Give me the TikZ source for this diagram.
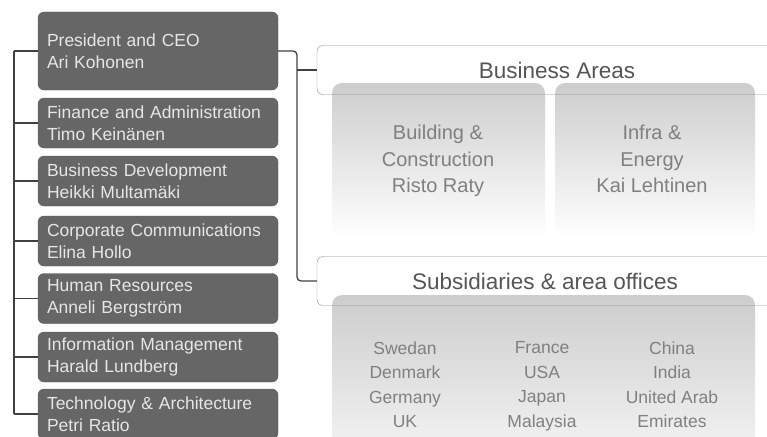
\documentclass[tikz,border=0pt]{standalone}
\usepackage{fontspec}
\setmainfont{Liberation Sans}
\usetikzlibrary{positioning}

\definecolor{boxgrey}{RGB}{102,102,102}
\definecolor{boxtext}{RGB}{230,230,230}
\definecolor{headtext}{RGB}{85,85,85}
\definecolor{areatext}{RGB}{128,128,128}
\definecolor{fogtop}{RGB}{205,205,205}

\tikzset{
  unitbox/.style={draw=boxgrey!85!black, fill=boxgrey, rounded corners=6pt,
    minimum width=240pt, minimum height=50pt, text width=222pt, inner xsep=9pt,
    align=left, text=boxtext, font=\fontsize{17.5}{22}\selectfont},
  headbox/.style={draw=black!45, rounded corners=6pt, minimum height=49pt,
    text=headtext, font=\fontsize{22.5}{26}\selectfont},
  fog/.style={top color=fogtop, bottom color=white, rounded corners=10pt},
  areatxt/.style={text=areatext, align=center, anchor=north, font=\fontsize{20}{26.5}\selectfont},
  landtxt/.style={text=areatext, align=center, anchor=north, font=\fontsize{17.5}{24.5}\selectfont},
  conn/.style={draw=black!75, line width=1.3pt}
}

\begin{document}
\begin{tikzpicture}[x=1pt,y=-1pt]
    \useasboundingbox (0,0) rectangle (767,436);

    % grey areas behind the headers
    \shade[fog] (332,83) rectangle (545,238);
    \shade[fog] (555,83) rectangle (755,238);
    \shade[fog, bottom color=gray!10] (332,295) rectangle (755,450);

    % left column
    \node[unitbox, minimum height=78pt] (ceo) at (158,51) {President and CEO\\Ari Kohonen};
    \node[unitbox] (fin) at (158,123) {Finance and Administration\\Timo Keinänen};
    \node[unitbox] (bus) at (158,181) {Business Development\\Heikki Multamäki};
    \node[unitbox] (com) at (158,241) {Corporate Communications\\Elina Hollo};
    \node[unitbox] (hr) at (158,298.5) {Human Resources\\Anneli Bergström};
    \node[unitbox] (im) at (158,357) {Information Management\\Harald Lundberg};
    \node[unitbox] (tech) at (158,414) {Technology \& Architecture\\Petri Ratio};

    % headers
    \node[headbox, minimum width=480pt] (areas) at (557,70) {Business Areas};
    \node[headbox, minimum width=456pt] (subs) at (545,281) {Subsidiaries \& area offices};

    \node[areatxt] (build) at (438,121.5) {Building \&\\Construction\\Risto Raty};
    \node[areatxt] (infra) at (652,121.5) {Infra \&\\Energy\\Kai Lehtinen};

    \node[landtxt] (north) at (405,338) {Swedan\\Denmark\\Germany\\UK};
    \node[landtxt] (west) at (542,338) {France\\USA\\Japan\\Malaysia};
    \node[landtxt] (east) at (672,338) {China\\India\\United Arab\\Emirates};

    % connectors
    \coordinate (spine) at (14,51);
    \coordinate (riser) at (297,51);
    \draw[conn] (ceo.west -| spine) -- (tech.west -| spine);
    \foreach \u in {ceo,fin,bus,com,hr,im,tech}
        \draw[conn] (\u.west -| spine) -- (\u.west);

    \draw[conn, rounded corners=4pt] (ceo.east) -- (riser) |- (subs.west);
    \draw[conn] (areas.west -| riser) -- (areas.west);
\end{tikzpicture}
\end{document}
